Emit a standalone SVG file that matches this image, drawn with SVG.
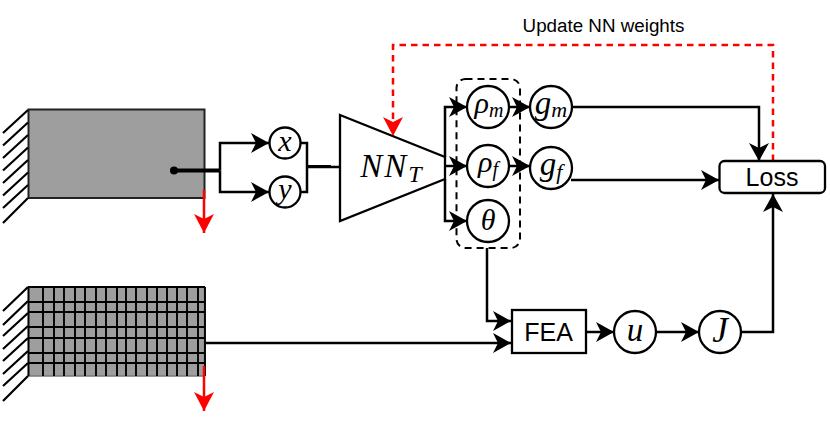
<svg xmlns="http://www.w3.org/2000/svg" width="830" height="435" viewBox="0 0 830 435">
<style>
.ln{fill:none;stroke:#000;stroke-width:2.500}
.ar{marker-end:url(#ah)}
.rd{fill:none;stroke:#f00;stroke-width:2.500}
.c{fill:#fff;stroke:#000;stroke-width:2.300}
.o{fill:none;stroke:#000;stroke-width:2.300}
.m{font-family:"Liberation Serif",serif;font-style:italic;text-anchor:middle;fill:#000}
.s{font-family:"Liberation Sans",sans-serif;text-anchor:middle;fill:#000}
.h{stroke:#000;stroke-width:2.200;fill:none}
</style>
<defs>
<marker id="ah" markerUnits="userSpaceOnUse" markerWidth="20" markerHeight="22" refX="18" refY="10" orient="auto" overflow="visible"><path d="M0,0 L18,10 L0,20 L5,10 Z" fill="#000"/></marker>
<marker id="rh" markerUnits="userSpaceOnUse" markerWidth="22" markerHeight="22" refX="19" refY="10" orient="auto" overflow="visible"><path d="M0,0 L19,10 L0,20 L5,10 Z" fill="#f00"/></marker>
</defs>

<g id="beam">
<rect x="28.500" y="109.500" width="176" height="88.500" fill="#9e9e9e" stroke="#222" stroke-width="2"/>
<path class="h" d="M28,110L3,133M28,122.500L3,145.500M28,135L3,158M28,147.500L3,170.500M28,160L3,183M28,172.500L3,195.500M28,185L3,208M28,198L3,223"/>
<circle cx="174" cy="170.500" r="4" fill="#000"/>
</g>

<g id="mesh">
<rect x="28.500" y="287" width="176" height="89" fill="#9e9e9e" stroke="#777" stroke-width="1.500"/>
<path class="h" d="M28,287L3,311M28,301L3,325M28,313L3,336M28,326L3,349M28,338L3,361M28,351L3,374M28,363L3,386M28,376L3,401"/>
<path stroke="#000" stroke-width="1.900" fill="none" d="M28.500,287V376M43,287V376M54,287V376M64,287V376M75,287V376M85,287V376M96,287V376M106,287V376M117,287V376M126,287V376M136,287V376M147,287V376M157,287V376M167,287V376M177,287V376M187,287V376M198,287V376M205,287V376M28,287H205M28,302H205M28,312H205M28,327H205M28,338H205M28,353H205M28,363H205"/>
</g>

<g id="connectors">
<path class="ln" style="stroke-width:4" d="M174,170.500H220"/>
<path class="ln ar" d="M220,170.500V143H269"/>
<path class="ln ar" d="M220,170.500V192H269"/>
<path class="ln" d="M300,143H307V192H300"/>
<path class="ln" d="M307,167H340"/>
<path class="ln" style="stroke-width:3" d="M307,166.500H331"/>
<path class="ln ar" d="M445,157V107H467"/>
<path class="ln ar" d="M445,166H467"/>
<path class="ln ar" d="M445,179V221H467"/>
<path class="ln ar" d="M509,107H530"/>
<path class="ln ar" d="M509,166H530"/>
<path class="ln ar" d="M572,107H759V161"/>
<path class="ln ar" d="M571,180H719"/>
<path class="ln ar" d="M487,248V321H511"/>
<path class="ln ar" d="M204,343H511"/>
<path class="ln ar" d="M586,332H614"/>
<path class="ln ar" d="M656,332H699"/>
<path class="ln ar" d="M741,332H773V194"/>
<path class="rd" d="M204,190V233" marker-end="url(#rh)"/>
<path class="rd" d="M204,366V411" marker-end="url(#rh)"/>
<path class="rd" stroke-dasharray="6.500 5" d="M773,161V45H393V136" marker-end="url(#rh)"/>
</g>

<g id="group-box"><rect x="456.500" y="79" width="63.500" height="169" rx="9" fill="none" stroke="#000" stroke-width="2" stroke-dasharray="7 5"/></g>

<g id="node-x"><circle class="c" cx="285" cy="143" r="15.500"/><text class="m" x="285" y="151" font-size="30">x</text></g>
<g id="node-y"><circle class="c" cx="285" cy="192" r="15.500"/><text class="m" x="285" y="199" font-size="30">y</text></g>
<g id="nn"><path d="M340,115L445,157V179L340,221Z" fill="#fff" stroke="#000" stroke-width="2.300"/>
<text class="m" x="391" y="177" font-size="33" letter-spacing="2">NN<tspan font-size="24" dy="5" letter-spacing="0">T</tspan></text></g>
<g id="node-rho-m"><circle class="o" cx="488" cy="107" r="21"/><text class="m" x="489" y="113" font-size="30">ρ<tspan font-size="20" dy="4">m</tspan></text></g>
<g id="node-rho-f"><circle class="o" cx="488" cy="166" r="21"/><text class="m" x="488" y="172" font-size="30">ρ<tspan font-size="20" dy="4">f</tspan></text></g>
<g id="node-theta"><circle class="o" cx="488" cy="221" r="21"/><text class="m" x="488" y="230" font-size="30">θ</text></g>
<g id="node-g-m"><circle class="c" cx="551" cy="107" r="21"/><text class="m" x="551" y="114" font-size="33">g<tspan font-size="22" dy="3">m</tspan></text></g>
<g id="node-g-f"><circle class="c" cx="551" cy="168" r="21"/><text class="m" x="551" y="175" font-size="33">g<tspan font-size="22" dy="4">f</tspan></text></g>
<g id="node-loss"><rect x="719.500" y="161" width="105.500" height="32" rx="5" fill="#fff" stroke="#000" stroke-width="2.300"/><text class="s" x="772" y="186" font-size="25">Loss</text></g>
<g id="node-fea"><rect x="512" y="310" width="74" height="43" fill="#fff" stroke="#000" stroke-width="2.300"/><text class="s" x="548.500" y="341" font-size="25">FEA</text></g>
<g id="node-u"><circle class="c" cx="635" cy="332" r="21"/><text class="m" x="635" y="341" font-size="33">u</text></g>
<g id="node-J"><circle class="c" cx="720" cy="332" r="21"/><text class="m" x="720" y="342" font-size="35">J</text></g>
<text class="s" x="603.500" y="32" font-size="18.800">Update NN weights</text>
</svg>
